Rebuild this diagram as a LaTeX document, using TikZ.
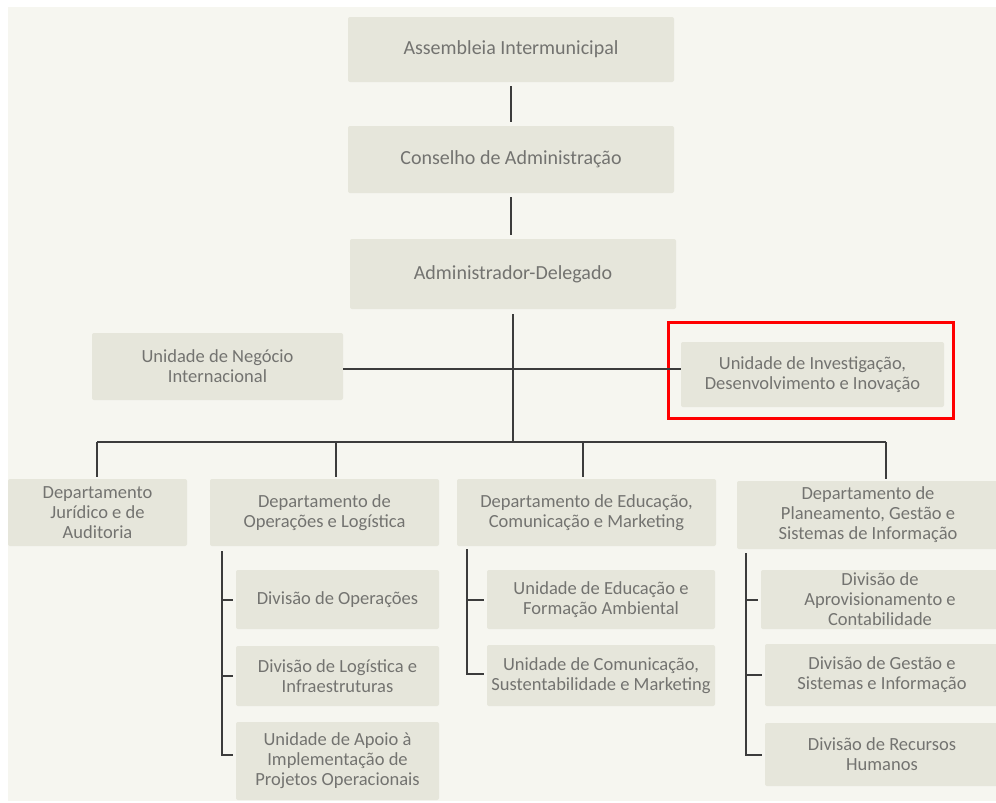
\documentclass[tikz,border=0pt]{standalone}
\usepackage{fontspec}
\setmainfont{Carlito}
\usetikzlibrary{positioning}

\definecolor{paper}{HTML}{F6F6F0}
\definecolor{boxfill}{HTML}{E6E6DB}
\definecolor{boxtext}{HTML}{737370}
\definecolor{linkgray}{HTML}{3C3C3C}

\tikzset{
  unit/.style={fill=boxfill, text=boxtext, rounded corners=2pt, align=center,
    inner sep=0pt, font=\fontsize{18.5}{20}\selectfont},
  head/.style={unit, font=\fontsize{20}{22}\selectfont},
  link/.style={draw=linkgray, line width=2pt},
}

\begin{document}
\begin{tikzpicture}[x = {(1pt,0pt)},
  y = {(0pt,-1pt)}]

  \useasboundingbox (0,0) rectangle (996,803);
  \fill[paper] (8,7) rectangle (996,801);

  \def\bary{442}
  \def\staffy{369}
  \def\gap{4}

  % board
  \node[head, minimum width=326, minimum height=65] (assembleia) at (511,49.5)
  {Assembleia Intermunicipal};
  \node[head, minimum width=326, minimum height=67] (conselho) at (511,159.5)
  {Conselho de Administração};
  \node[head, minimum width=326, minimum height=70] (admin) at (513,274)
  {Administrador-Delegado};

  % staff units
  \node[unit, minimum width=251, minimum height=67] (negocio) at (217.5,366.5)
  {Unidade de Negócio\\Internacional};
  \node[unit, minimum width=263, minimum height=65] (investigacao) at (812.5,374.5)
  {Unidade de Investigação,\\Desenvolvimento e Inovação};
  \draw[red, line width=3pt] ([shift={(-12,-19)}]investigacao.north west)
  rectangle ([shift={(9,11)}]investigacao.south east);

  % departments
  \node[unit, minimum width=179, minimum height=67] (juridico) at (97.5,512.5)
  {Departamento\\Jurídico e de\\Auditoria};
  \node[unit, minimum width=229, minimum height=67] (operacoes) at (324.5,512.5)
  {Departamento de\\Operações e Logística};
  \node[unit, minimum width=259, minimum height=67] (educacao) at (586.5,512.5)
  {Departamento de Educação,\\Comunicação e Marketing};
  \node[unit, minimum width=262, minimum height=68] (planeamento) at (868,515)
  {Departamento de\\Planeamento, Gestão e\\Sistemas de Informação};

  % divisions
  \node[unit, minimum width=203, minimum height=59] (divop) at (337.5,599.5)
  {Divisão de Operações};
  \node[unit, minimum width=203, minimum height=60] (divlog) at (337.5,676)
  {Divisão de Logística e\\Infraestruturas};
  \node[unit, minimum width=203, minimum height=78] (apoio) at (337.5,761)
  {Unidade de Apoio à\\Implementação de\\Projetos Operacionais};

  \node[unit, minimum width=228, minimum height=59] (eduamb) at (601,599.5)
  {Unidade de Educação e\\Formação Ambiental};
  \node[unit, minimum width=228, minimum height=61] (comsus) at (601,675.5)
  {Unidade de Comunicação,\\Sustentabilidade e Marketing};

  \node[unit, minimum width=238, minimum height=59] (aprov) at (880,599.5)
  {Divisão de\\Aprovisionamento e\\Contabilidade};
  \node[unit, minimum width=234, minimum height=62] (gestao) at (882,675)
  {Divisão de Gestão e\\Sistemas e Informação};
  \node[unit, minimum width=234, minimum height=63] (recursos) at (882,754.5)
  {Divisão de Recursos\\Humanos};

  % lines of command
  \draw[link, shorten <=\gap, shorten >=\gap] (assembleia) -- (conselho);
  \draw[link, shorten <=\gap, shorten >=\gap]
  (conselho.south) -- (conselho.south |- admin.north);

  \coordinate (hub) at (admin.south |- 0,\bary);
  \draw[link, shorten <=5] (admin.south) -- (hub);
  \draw[link] (negocio.east |- 0,\staffy) -- (investigacao.west |- 0,\staffy);

  \coordinate (barleft) at (97,\bary);
  \coordinate (barright) at (886,\bary);
  \draw[link] (barleft) -- (barright);

  \foreach \x/\n in {97/juridico,336/operacoes,583/educacao,886/planeamento}
  \draw[link, shorten >=2] (\x,\bary) -- (\x,0 |- \n.north);

  % sub units
  \coordinate (optop) at (222,551);
  \coordinate (edtop) at (467,549);
  \coordinate (pltop) at (746,553);

  \draw[link] (optop) |- ([xshift=-3,yshift=6]apoio.west);
  \foreach \n in {divop,divlog}
  \draw[link] (optop |- \n.west) -- ([xshift=-3]\n.west);

  \draw[link] (edtop) |- ([xshift=-3,yshift=2]comsus.west);
  \draw[link] (edtop |- eduamb.west) -- ([xshift=-3]eduamb.west);

  \draw[link] (pltop) |- ([xshift=-3]recursos.west);
  \foreach \n in {aprov,gestao}
  \draw[link] (pltop |- \n.west) -- ([xshift=-3]\n.west);
\end{tikzpicture}
\end{document}
